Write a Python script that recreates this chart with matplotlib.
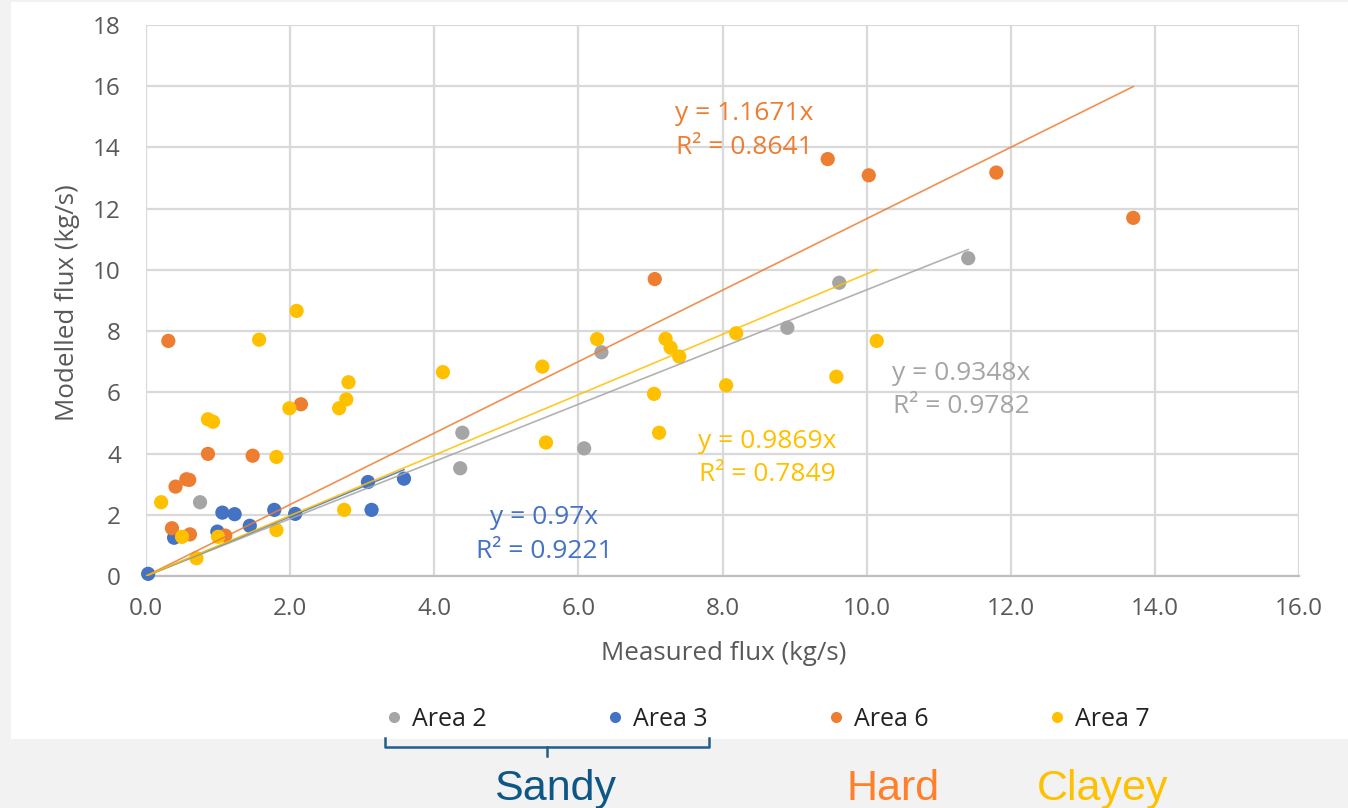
import numpy as np
import matplotlib.pyplot as plt
from matplotlib.patches import Rectangle
from matplotlib.lines import Line2D

# data (measured, modelled) in kg/s
area2_x = [0.75, 4.36, 4.39, 6.08, 6.32, 8.90, 9.62, 11.41]
area2_y = [2.41, 3.52, 4.68, 4.17, 7.31, 8.11, 9.58, 10.38]

area3_x = [0.03, 0.39, 0.99, 1.06, 1.23, 1.44, 1.78, 2.07, 3.08, 3.13, 3.58]
area3_y = [0.07, 1.25, 1.45, 2.07, 2.02, 1.64, 2.16, 2.03, 3.07, 2.16, 3.18]

area6_x = [0.31, 0.36, 0.41, 0.56, 0.60, 0.61, 0.86, 1.10, 1.48, 2.15,
           7.06, 9.46, 10.03, 11.80, 13.70]
area6_y = [7.68, 1.56, 2.92, 3.16, 3.14, 1.36, 3.99, 1.32, 3.93, 5.61,
           9.70, 13.62, 13.09, 13.18, 11.70]

area7_x = [0.21, 0.50, 0.70, 0.86, 0.93, 1.00, 1.57, 1.81, 1.81, 1.99,
           2.09, 2.68, 2.75, 2.78, 2.81, 4.12, 5.50, 5.55, 6.26, 7.05,
           7.12, 7.21, 7.28, 7.40, 8.05, 8.19, 9.58, 10.14]
area7_y = [2.41, 1.28, 0.58, 5.12, 5.04, 1.28, 7.72, 3.89, 1.50, 5.48,
           8.66, 5.48, 2.16, 5.77, 6.33, 6.66, 6.84, 4.36, 7.74, 5.95,
           4.68, 7.75, 7.46, 7.17, 6.23, 7.93, 6.51, 7.68]

names = ['Area 2', 'Area 3', 'Area 6', 'Area 7']
slopes = [0.9348, 0.97, 1.1671, 0.9869]
r2 = [0.9782, 0.9221, 0.8641, 0.7849]
soil_labels = ['Sandy', 'Hard', 'Clayey']

xs = [area2_x, area3_x, area6_x, area7_x]
ys = [area2_y, area3_y, area6_y, area7_y]
colors = ['#A5A5A5', '#4472C4', '#ED7D31', '#FFC000']
# label centres (data coords) for the trendline equations
label_pos = [(11.31, 6.08), (5.53, 1.36), (8.30, 14.55), (8.62, 3.86)]

plt.rcParams['font.family'] = ['Open Sans', 'DejaVu Sans']

W, H = 1348, 808
fig = plt.figure(figsize=(W / 100, H / 100), dpi=100, facecolor='#F2F2F2')
fig.patches.append(Rectangle((11 / W, (H - 739) / H), 1 - 11 / W, (739 - 2) / H,
                             transform=fig.transFigure, facecolor='white',
                             edgecolor='none', zorder=-1))

ax = fig.add_axes([146 / W, (H - 576) / H, (1299 - 146) / W, (576 - 25) / H])
ax.set_facecolor('white')
ax.set_xlim(0, 16)
ax.set_ylim(0, 18)
ax.set_xticks(np.arange(0, 16.1, 2))
ax.set_yticks(np.arange(0, 18.1, 2))
ax.set_xticklabels(['%.1f' % v for v in np.arange(0, 16.1, 2)])
ax.set_yticklabels(['%d' % v for v in np.arange(0, 18.1, 2)])
ax.grid(True, color='#D9D9D9', lw=1.6, zorder=0)
ax.set_axisbelow(True)
for s in ['top', 'right', 'left']:
    ax.spines[s].set_visible(False)
ax.spines['bottom'].set_color('#BFBFBF')
ax.spines['bottom'].set_linewidth(1.6)
ax.tick_params(length=0, labelsize=17.5, labelcolor='#595959')
ax.tick_params(axis='x', pad=15)
ax.tick_params(axis='y', pad=18)

for i in range(4):
    ax.scatter(xs[i], ys[i], s=105, color=colors[i], edgecolors='none',
               zorder=3, clip_on=False)

for i in range(4):
    xmax = max(xs[i])
    ax.plot([0, xmax], [0, slopes[i] * xmax], color=colors[i], lw=1.2,
            alpha=0.85, zorder=4)
    lx, ly = label_pos[i]
    ax.text(lx, ly, 'y = %gx\nR² = %.4f' % (slopes[i], r2[i]), color=colors[i],
            fontsize=19, ha='center', va='center', multialignment='center',
            linespacing=1.45, zorder=5)

fig.text(67 / W, 1 - 303 / H, 'Modelled flux (kg/s)', rotation=90,
         ha='center', va='center', fontsize=18.7, color='#595959')
fig.text(724 / W, 1 - 654 / H, 'Measured flux (kg/s)',
         ha='center', va='center', fontsize=18.7, color='#595959')

handles = [Line2D([], [], ls='none', marker='o', ms=8, color=c, mec='none')
           for c in colors]
fig.legend(handles, names, loc='center', bbox_to_anchor=(768 / W, 1 - 719 / H),
           ncol=4, frameon=False, fontsize=18, handlelength=0.6,
           handletextpad=0.4, columnspacing=4.85, labelcolor='#222222')

# bracket under the sandy areas
bc = '#1F5F8B'
fig.add_artist(Line2D(np.array([385, 385, 709, 709]) / W,
                      1 - np.array([738, 747, 747, 738]) / H, color=bc, lw=1.8))
fig.add_artist(Line2D(np.array([547, 547]) / W, 1 - np.array([747, 756]) / H,
                      color=bc, lw=1.8))

fig.text(555 / W, 8 / H, soil_labels[0], color='#0E5686', fontsize=31,
         ha='center', va='baseline', family='Liberation Sans')
fig.text(893 / W, 8 / H, soil_labels[1], color='#FF7F2A', fontsize=31,
         ha='center', va='baseline', family='Liberation Sans')
fig.text(1103 / W, 8 / H, soil_labels[2], color='#FFC000', fontsize=31,
         ha='center', va='baseline', family='Liberation Sans')

fig.savefig('out.png', dpi=100, facecolor=fig.get_facecolor())
